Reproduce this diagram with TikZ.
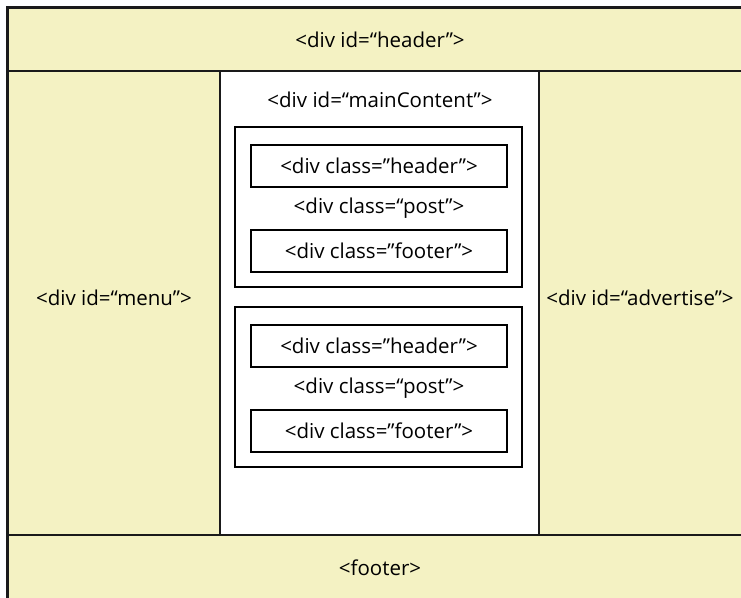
\documentclass[tikz,border=0pt]{standalone}
\usepackage{fontspec}
\setmainfont{Open Sans}
\usetikzlibrary{positioning}
\definecolor{lyBack}{HTML}{F4F2C3}
\definecolor{lyLine}{HTML}{1A1A1A}

\begin{document}
\begin{tikzpicture}[x=1pt, y=-1pt,
  every node/.style={font=\fontsize{20.5}{24}\selectfont, inner sep=0pt},
  region/.style={fill=lyBack, draw=lyLine, line width=2pt},
  postbox/.style={draw=black, line width=2.4pt, fill=white},
  divbox/.style={draw=black, line width=1.8pt, fill=white,
    minimum width=256pt, minimum height=42pt}]
  \clip (0,0) rectangle (741,597);
  % page regions
  \draw[region] (7,7) rectangle (750,71);
  \draw[region] (7,71) rectangle (220,535);
  \draw[region, fill=white] (220,71) rectangle (539,535);
  \draw[region] (539,71) rectangle (750,535);
  \draw[region] (7,535) rectangle (750,605);
  \draw[line width=3pt, lyLine] (7,605) -- (7,7) -- (750,7);
  \node (header) at (380,40) {<div id=“header”>};
  \node (menu) at (114,298) {<div id=“menu”>};
  \node (advertise) at (640,298) {<div id=“advertise”>};
  \node (footer) at (380,568) {<footer>};
  \node (main) at (380,100) {<div id=“mainContent”>};
  % posts
  \foreach \i/\y in {1/127, 2/307}{
    \draw[postbox] (235,\y) rectangle (522,\y+160);
    \node[divbox] (hdr\i) at (379,\y+39) {<div class=”header”>};
    \node (post\i) at (379,\y+81) {<div class=“post”>};
    \node[divbox] (ftr\i) at (379,\y+124) {<div class=”footer”>};
  }
\end{tikzpicture}
\end{document}
